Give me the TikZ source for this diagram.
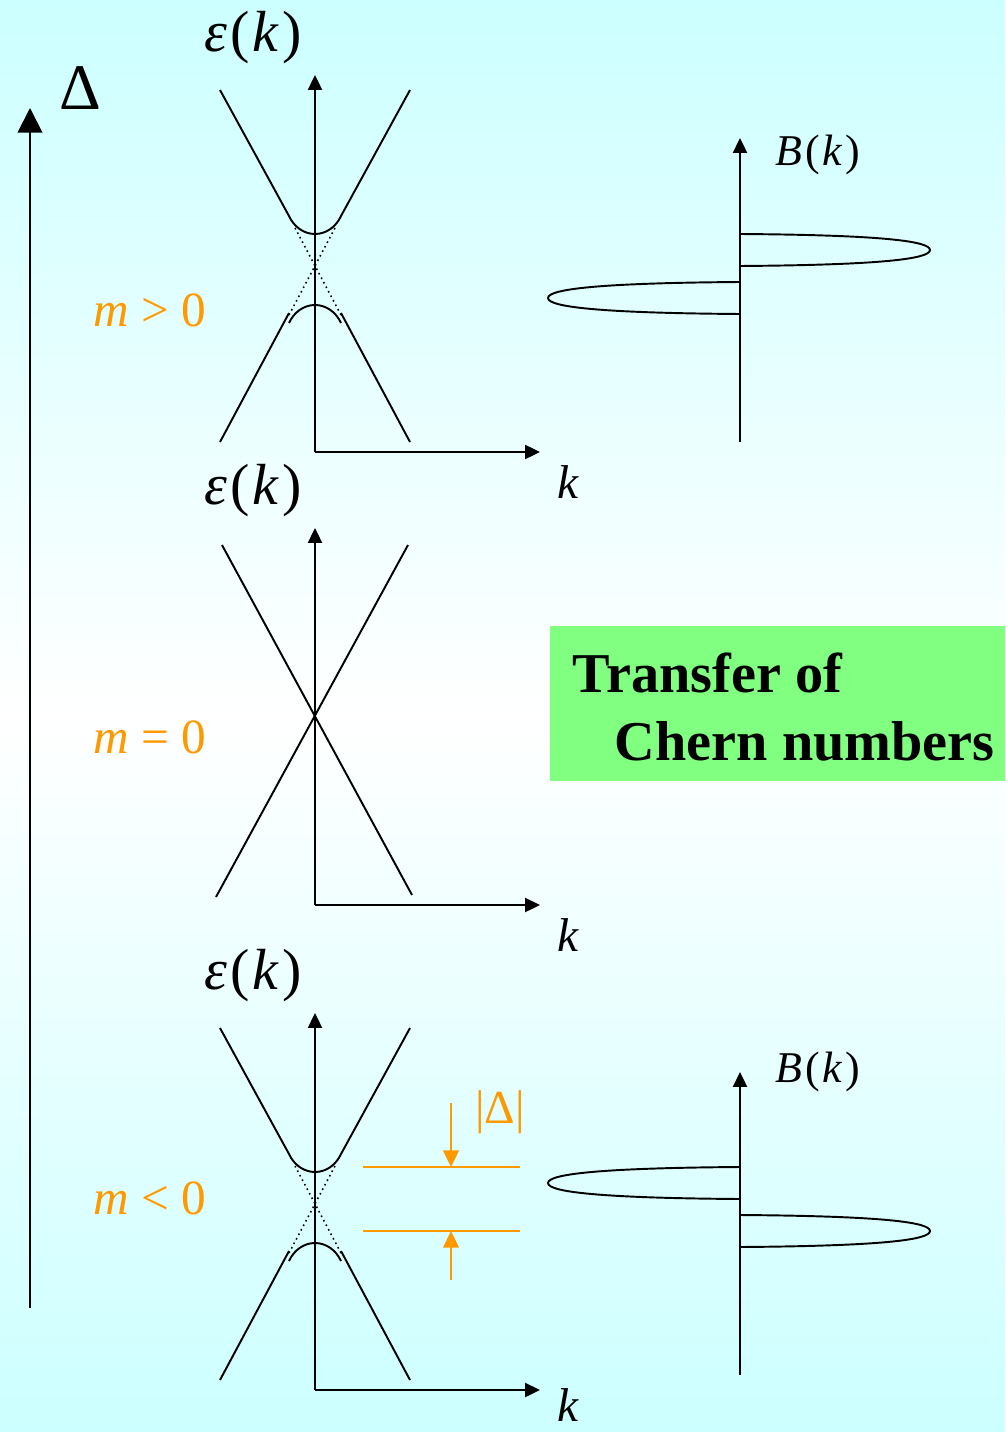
\documentclass[tikz,border=0pt]{standalone}
\usepackage{fontspec}
\setmainfont{Liberation Serif}
\usetikzlibrary{arrows.meta,calc,positioning}
\usepackage{xcolor}
\definecolor{bgcyan}{RGB}{204,255,255}
\definecolor{gapcol}{RGB}{255,153,0}
\definecolor{boxgreen}{RGB}{128,255,128}

\begin{document}
\begin{tikzpicture}[x=0.02cm,y=-0.02cm,line width=1.1pt,
    >={Triangle[length=8.5pt,width=8pt]},
    epslab/.style={font=\fontsize{33}{38}\selectfont},
    klab/.style={font=\fontsize{27}{30}\selectfont},
    mlab/.style={font=\fontsize{28}{32}\selectfont,text=gapcol},
    blab/.style={font=\fontsize{25}{30}\selectfont},
    chern/.style={font=\fontsize{32}{38}\selectfont\bfseries,anchor=base west,inner sep=0pt}]
  \useasboundingbox (0,0) rectangle (1005,1432);
  \shade[top color=bgcyan,bottom color=white] (0,0) rectangle (1005,716);
  \shade[top color=white,bottom color=bgcyan] (0,716) rectangle (1005,1432);

  % tuning parameter
  \coordinate (dbot) at (30,1308);
  \coordinate (dtop) at (30,108);
  \draw[-{Triangle[length=14pt,width=14pt]}] (dbot) -- (dtop);
  \node[font=\fontsize{37}{42}\selectfont] (dlab) at (80,88) {Δ};

  % dispersion axes
  \foreach \dy/\ky in {0/482,453/935,938/1405} {
    \coordinate (o\dy) at (315,452+\dy);
    \draw[->] (o\dy) -- (315,75+\dy);
    \draw[->] (o\dy) -- (540,452+\dy);
    \node[klab,inner sep=0pt] (k\dy) at (568,\ky) {\textit{k}};
    \node[epslab] (eps\dy) at (253,38+\dy) {\textit{ε}\kern2pt(\kern1pt\textit{k}\kern2pt)};
  }

  % gapped cones
  \foreach \dy in {0,938} {
    \begin{scope}[shift={(0,\dy)}]
      \draw (220,90) -- (289,216) .. controls (294,227) and (304,234) .. (315,234)
        .. controls (326,234) and (336,227) .. (341,216) -- (410,90);
      \draw (220,442) -- (289,313);
      \draw (341,313) -- (410,442);
      \draw (289,323) .. controls (294,312) and (304,305) .. (315,305)
        .. controls (326,305) and (336,312) .. (341,323);
      \draw[dotted,line width=0.9pt] (295,228) -- (341,315);
      \draw[dotted,line width=0.9pt] (335,228) -- (289,315);
    \end{scope}
  }
  % gapless cone
  \draw (222,545) -- (412,895);
  \draw (408,545) -- (216,897);

  \node[mlab] (mpos) at (150,310) {\textit{m} > 0};
  \node[mlab] (mzero) at (150,737) {\textit{m} = 0};
  \node[mlab] (mneg) at (150,1198) {\textit{m} < 0};

  % gap marker
  \begin{scope}[gapcol,>={Triangle[length=9.5pt,width=9pt]}]
    \coordinate (gtop) at (451,1167);
    \coordinate (gbot) at (451,1231);
    \draw (363,1167) -- (520,1167);
    \draw (363,1231) -- (520,1231);
    \draw[->] (451,1103) -- (gtop);
    \draw[->] (451,1280) -- (gbot);
    \node[klab,text=gapcol] (gap) at (500,1112) {|Δ|};
  \end{scope}

  % Berry curvature
  \draw[->] (740,442) -- (740,138);
  \node[blab] (b1) at (818,155) {\textit{B}\kern2pt(\kern1pt\textit{k}\kern2pt)};
  \draw (740,234) .. controls (880,235) and (930,241) .. (930,250)
    .. controls (930,259) and (880,265) .. (740,266);
  \draw (740,282) .. controls (600,283) and (548,289) .. (548,298)
    .. controls (548,307) and (600,313) .. (740,314);

  \draw[->] (740,1375) -- (740,1072);
  \node[blab] (b2) at (818,1072) {\textit{B}\kern2pt(\kern1pt\textit{k}\kern2pt)};
  \draw (740,1167) .. controls (600,1168) and (548,1174) .. (548,1183)
    .. controls (548,1192) and (600,1198) .. (740,1199);
  \draw (740,1215) .. controls (880,1216) and (930,1222) .. (930,1231)
    .. controls (930,1240) and (880,1246) .. (740,1247);

  % label box
  \fill[boxgreen] (550,626) rectangle (1005,781);
  \node[chern] (tr) at (572,692) {Transfer of};
  \node[chern] (cn) at (614,760) {Chern numbers};
\end{tikzpicture}
\end{document}
